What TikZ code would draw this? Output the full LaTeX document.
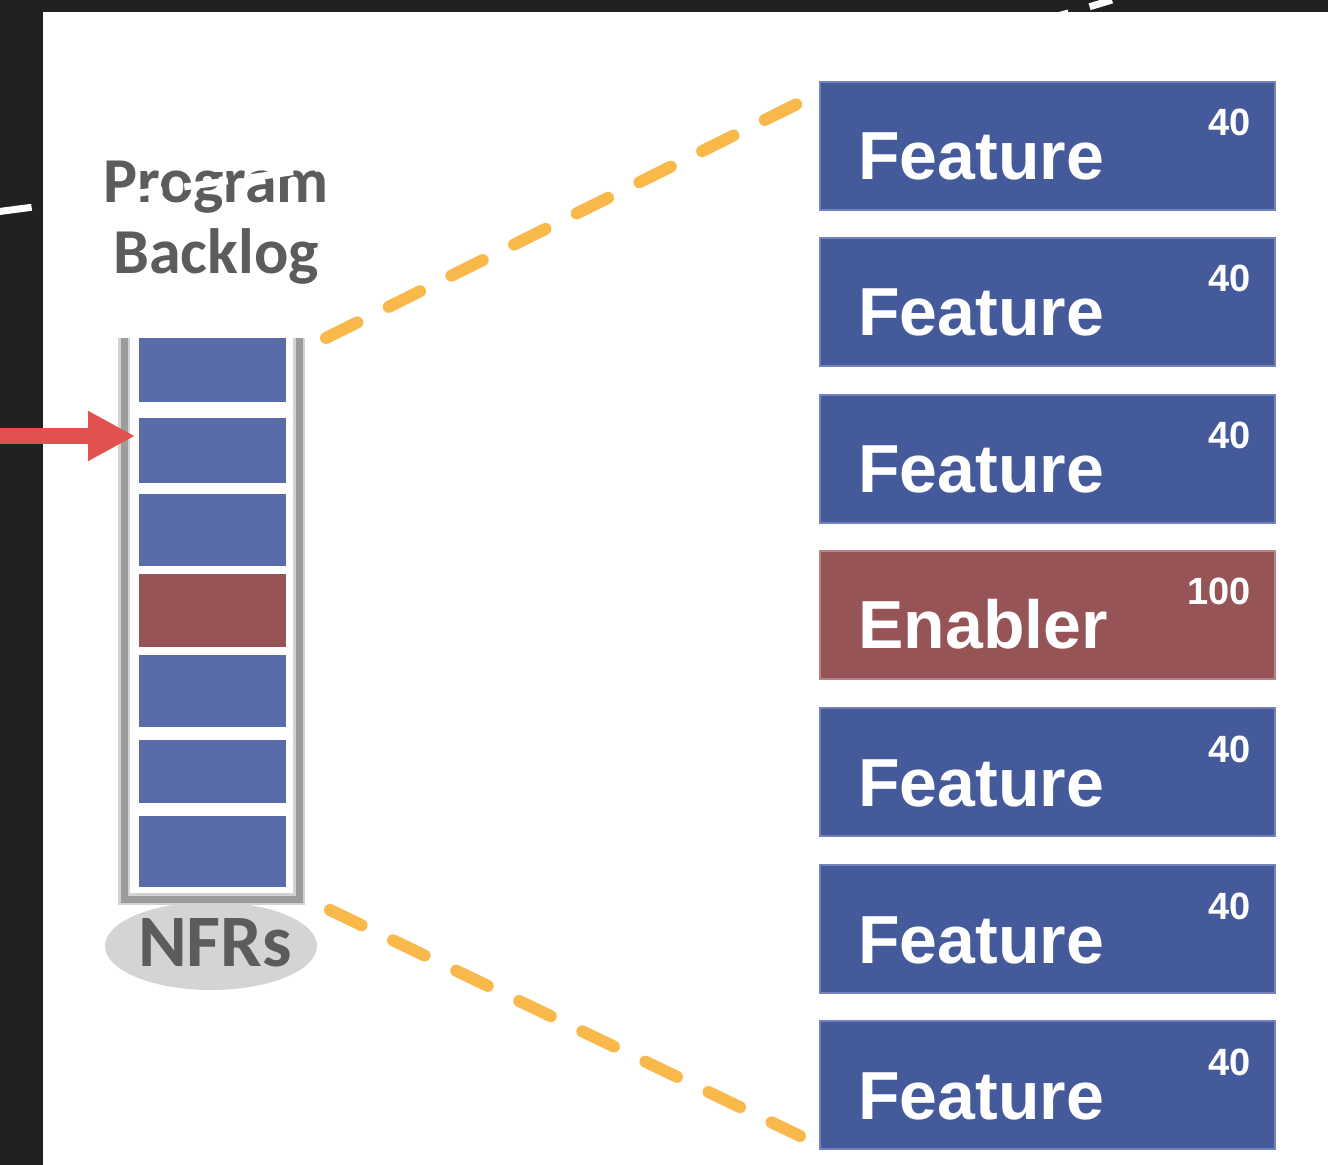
\documentclass[tikz,border=0pt]{standalone}
\usepackage{fontspec}
\setmainfont{Liberation Sans}
\newfontfamily\headfont{Carlito}
\usetikzlibrary{arrows.meta,shapes.geometric,calc}
\definecolor{darkbg}{HTML}{212121}
\definecolor{featblue}{HTML}{445A9A}
\definecolor{featedge}{HTML}{7382B9}
\definecolor{enabred}{HTML}{975457}
\definecolor{enabedge}{HTML}{B88587}
\definecolor{stackblue}{HTML}{5A6CA8}
\definecolor{stackred}{HTML}{975457}
\definecolor{framegray}{HTML}{9C9C9C}
\definecolor{framelight}{HTML}{D2D2D2}
\definecolor{nfrgray}{HTML}{D4D4D4}
\definecolor{textgray}{HTML}{5C5C5C}
\definecolor{dashorange}{HTML}{F8B84A}
\definecolor{arrowred}{HTML}{E35050}
\tikzset{
  featbox/.style={fill=featblue, draw=featedge, line width=1.2pt, minimum width=227.5pt, minimum height=64pt, inner sep=0pt, outer sep=0pt, anchor=north west},
  enabbox/.style={featbox, fill=enabred, draw=enabedge},
  boxtxt/.style={text=white, font=\fontsize{34}{40}\selectfont\bfseries, inner sep=0pt, anchor=base west},
  numtxt/.style={text=white, font=\fontsize{19}{22}\selectfont\bfseries, inner sep=0pt, anchor=base east},
  stackbox/.style={minimum width=73.5pt, inner sep=0pt, outer sep=0pt, draw=none},
  orangedash/.style={draw=dashorange, line width=6pt, line cap=round, dash pattern=on 17.5pt off 17.5pt},
  headtxt/.style={text=textgray, font=\headfont\fontsize{32}{36}\selectfont\bfseries, inner sep=0pt, anchor=base},
}
\begin{document}
\begin{tikzpicture}[x=0.5pt,y=-0.5pt]
\useasboundingbox (0,0) rectangle (1328,1165);
% background
\fill[darkbg] (0,0) rectangle (1328,1165);
\fill[white] (43,12) rectangle (1328,1165);

% heading
\node[headtxt] (prog) at (216,203) {Program};
\node[headtxt] (back) at (216,274) {Backlog};

% NFR ellipse
\node[ellipse, fill=nfrgray, minimum width=106pt, minimum height=44pt, inner sep=0pt] (nfr) at (211,946) {};
\node[headtxt, font=\headfont\fontsize{37}{40}\selectfont\bfseries] (nfrt) at (215,966) {NFRs};

% stack frame
\draw[framelight, line width=6pt] (124,338) -- (124,899) -- (299,899) -- (299,338);
\draw[framegray, line width=3.5pt] (124,338) -- (124,899) -- (299,899) -- (299,338);

% stack boxes
\node[stackbox, fill=stackblue, minimum height=32pt, anchor=north] (s1) at (212.5,338) {};
\node[stackbox, fill=stackblue, minimum height=32.5pt, anchor=north] (s2) at (212.5,418) {};
\node[stackbox, fill=stackblue, minimum height=36pt, anchor=north] (s3) at (212.5,494) {};
\node[stackbox, fill=stackred, minimum height=36.5pt, anchor=north] (s4) at (212.5,574) {};
\node[stackbox, fill=stackblue, minimum height=36pt, anchor=north] (s5) at (212.5,655) {};
\node[stackbox, fill=stackblue, minimum height=31.5pt, anchor=north] (s6) at (212.5,740) {};
\node[stackbox, fill=stackblue, minimum height=35.5pt, anchor=north] (s7) at (212.5,816) {};

% right boxes
\node[featbox] (f1) at (820,82) {};
\node[featbox] (f2) at (820,238) {};
\node[featbox] (f3) at (820,395) {};
\node[enabbox] (f4) at (820,551) {};
\node[featbox] (f5) at (820,708) {};
\node[featbox] (f6) at (820,865) {};
\node[featbox] (f7) at (820,1021) {};
\foreach \n/\word/\num in {f1/Feature/40, f2/Feature/40, f3/Feature/40, f4/Enabler/100, f5/Feature/40, f6/Feature/40, f7/Feature/40}{
  \node[boxtxt] (\n t) at ($(\n.north west)+(38,98)$) {\word};
  \node[numtxt] (\n n) at ($(\n.north east)+(-24,54)$) {\num};
}

% orange dashed connectors
\coordinate (ot1) at (326,338);
\coordinate (ot2) at (805,100);
\coordinate (ob1) at (330,910);
\coordinate (ob2) at (800,1136);
\draw[orangedash] (ot1) -- (ot2);
\draw[orangedash] (ob1) -- (ob2);

% red arrow
\coordinate (arrstart) at (-5,436);
\draw[arrowred, line width=8pt, -{Triangle[length=23.5pt,width=23.5pt]}] (arrstart) -- ([xshift=-2pt]arrstart -| s2.west);

% white dashed overlay line
\draw[white, line width=3.5pt, dash pattern=on 22pt off 11pt] (-12,213) .. controls (363,164) and (737,114) .. (1112,0);
\end{tikzpicture}
\end{document}
